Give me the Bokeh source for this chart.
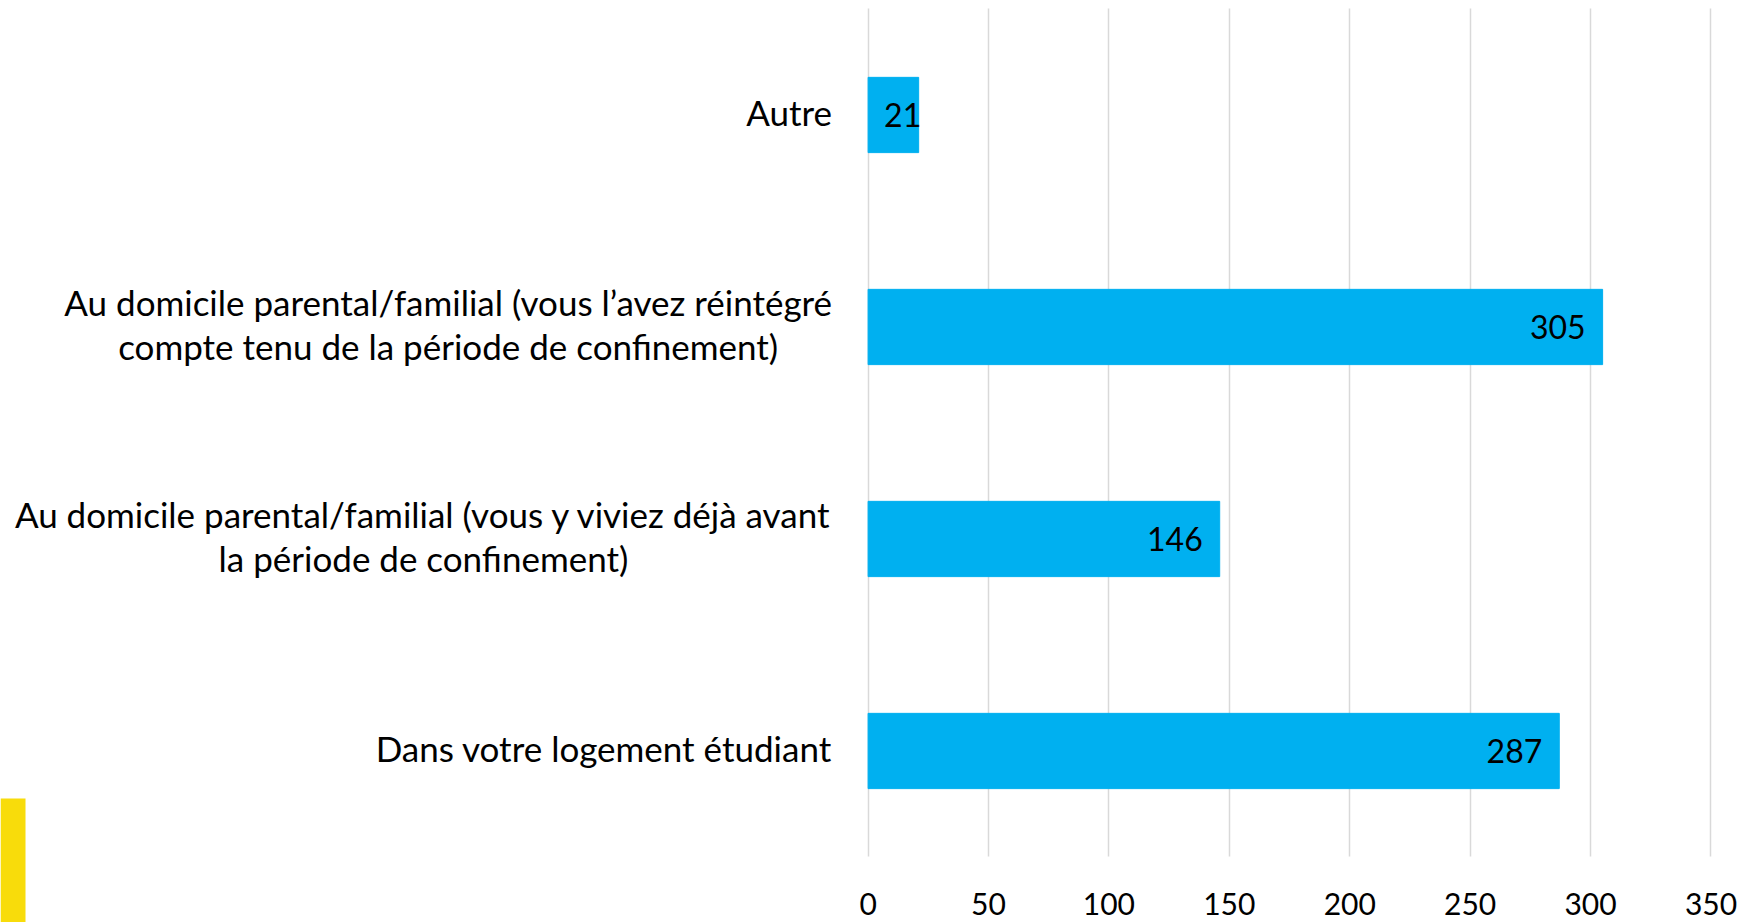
from bokeh.plotting import figure
from bokeh.models import Range1d, FixedTicker, ColumnDataSource
from bokeh.core.properties import value
from bokeh.embed import file_html
from bokeh.resources import INLINE

# ---- data ----
categories = [
    "Autre",
    "Au domicile parental/familial (vous l\u2019avez réintégré\ncompte tenu de la période de confinement)",
    "Au domicile parental/familial (vous y viviez déjà avant\nla période de confinement)",
    "Dans votre logement étudiant",
]
counts = [21, 305, 146, 287]
x_ticks = [0, 50, 100, 150, 200, 250, 300, 350]

# ---- style / layout ----
FONT = "Lato"
BAR = "#00B0F0"
W, H = 1753, 922
X_START, X_END = -360.25, 367.65      # room left of 0 for the category labels
Y_START, Y_END = -0.809, 3.540        # room below the bands for the value axis

n = len(categories)
ypos = [n - 1 - i for i in range(n)]  # first category on top

p = figure(
    width=W, height=H,
    x_range=Range1d(X_START, X_END), y_range=Range1d(Y_START, Y_END),
    output_backend="svg", toolbar_location=None,
    min_border=0, min_border_left=0, min_border_right=0,
    min_border_top=0, min_border_bottom=0,
)
p.outline_line_color = None
p.background_fill_color = "white"
p.border_fill_color = "white"

src = ColumnDataSource(dict(cat=categories, y=ypos, v=counts,
                            lbl=[str(c) for c in counts],
                            lx=[0 if c < 50 else c for c in counts],
                            align=["left" if c < 50 else "right" for c in counts],
                            off=[16 if c < 50 else -17 for c in counts]))

# grid only across the bands
p.ygrid.visible = False
p.xgrid.ticker = FixedTicker(ticks=x_ticks)
p.xgrid.grid_line_color = "#D9D9D9"
p.xgrid.grid_line_width = 1.5
p.xgrid.cross_bounds = (-0.5, n - 0.5)

p.hbar(y="y", right="v", left=0, height=0.355, color=BAR, source=src)
p.text(x="lx", y="y", text="lbl", text_align="align", x_offset="off",
       text_baseline="middle", text_font=value(FONT), text_font_size="32px",
       text_color="black", source=src)

# category labels: block right-aligned against the 0 line, lines centred
p.text(x=0, y="y", text="cat", x_offset=-36, y_offset=-3, anchor="center_right",
       text_align="center", text_baseline="middle",
       text_font=value(FONT), text_font_size="35px", text_line_height=1.04,
       text_color="black", source=src)

# value axis drawn at the bottom of the bands
p.yaxis.visible = False
p.xaxis.fixed_location = -0.5
p.xaxis.ticker = FixedTicker(ticks=x_ticks)
p.xaxis.axis_line_color = None
p.xaxis.major_tick_line_color = None
p.xaxis.minor_tick_line_color = None
p.xaxis.major_label_text_font = FONT
p.xaxis.major_label_text_font_size = "30px"
p.xaxis.major_label_text_color = "black"
p.xaxis.major_label_standoff = 30

# decorative yellow block in the bottom-left corner
px_x = W / (X_END - X_START)
px_y = H / (Y_END - Y_START)
p.quad(left=X_START, right=X_START + 25 / px_x,
       top=Y_START + (H - 798) / px_y, bottom=Y_START,
       fill_color="#F8DC0B", line_color=None)

open("out.html", "w").write(file_html(p, INLINE))
